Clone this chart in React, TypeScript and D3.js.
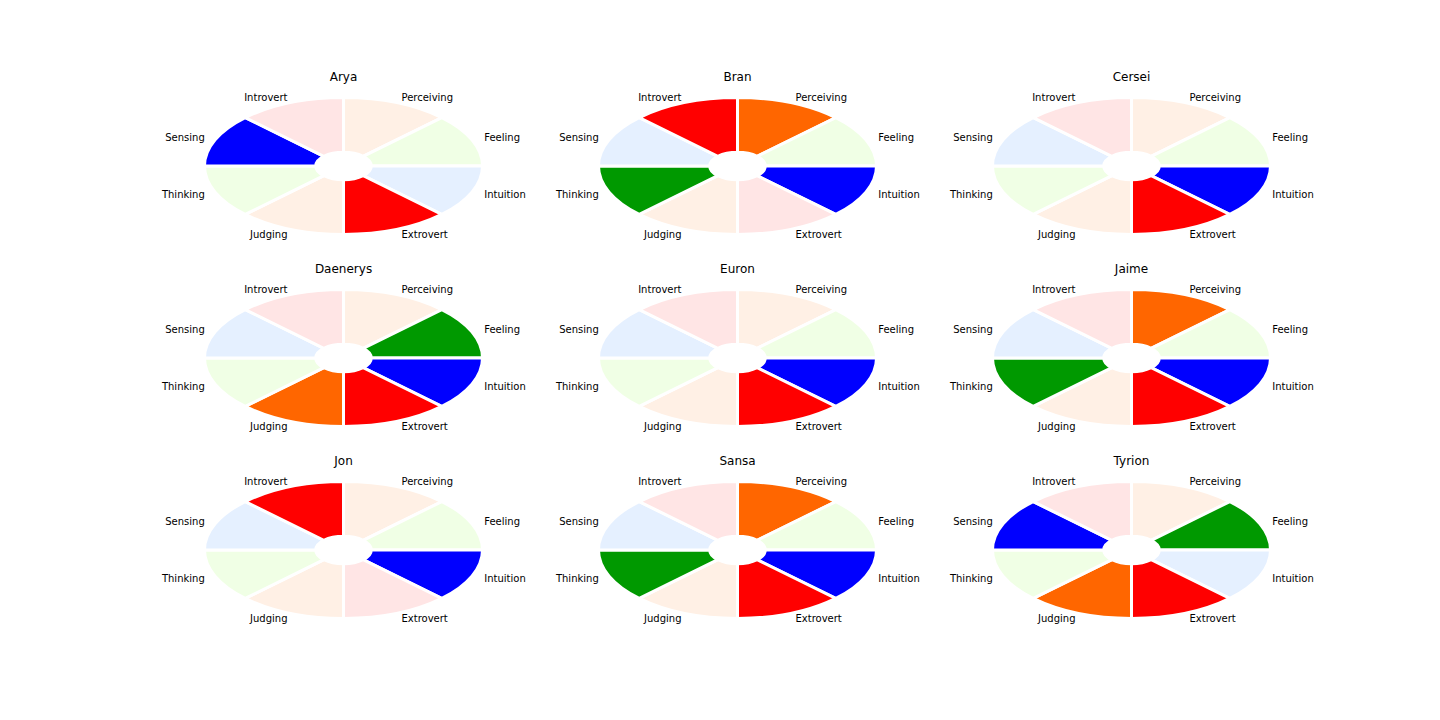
import React, { useEffect, useRef } from "react";
import * as d3 from "d3";

// slices clockwise from 12 o'clock
const traits = ["Perceiving", "Feeling", "Intuition", "Extrovert", "Judging", "Thinking", "Sensing", "Introvert"];
const traitGroup = ["JP", "TF", "SN", "IE", "JP", "TF", "SN", "IE"];

const characters = ["Arya", "Bran", "Cersei", "Daenerys", "Euron", "Jaime", "Jon", "Sansa", "Tyrion"];
const highlighted = [
    ["Sensing", "Extrovert"],
    ["Introvert", "Perceiving", "Intuition", "Thinking"],
    ["Intuition", "Extrovert"],
    ["Feeling", "Intuition", "Extrovert", "Judging"],
    ["Intuition", "Extrovert"],
    ["Perceiving", "Intuition", "Extrovert", "Thinking"],
    ["Introvert", "Intuition"],
    ["Perceiving", "Intuition", "Extrovert", "Thinking"],
    ["Sensing", "Feeling", "Extrovert", "Judging"],
];

const strongColor: Record<string, string> = { IE: "#ff0000", SN: "#0000ff", TF: "#009900", JP: "#ff6600" };
const lightColor: Record<string, string> = { IE: "#ffe5e5", SN: "#e5f0ff", TF: "#f0ffe5", JP: "#fff0e5" };

const colCenters = [343.5, 737.5, 1131.5];
const rowCenters = [166, 358, 550];

export default function App() {
    const ref = useRef<SVGSVGElement>(null);

    useEffect(() => {
        const svg = d3.select(ref.current);
        svg.selectAll("*").remove();

        const rx = 139;
        const ry = 68.5;

        const pie = d3.pie<string>().value(() => 1).sort(null);
        const arc = d3.arc<d3.PieArcDatum<string>>().innerRadius(rx * 0.2).outerRadius(rx);
        const arcs = pie(traits);
        const mid = (d: d3.PieArcDatum<string>) => (d.startAngle + d.endAngle) / 2;

        characters.forEach((name, i) => {
            const cx = colCenters[i % 3];
            const cy = rowCenters[Math.floor(i / 3)];
            const on = new Set(highlighted[i]);

            const g = svg.append("g").attr("transform", `translate(${cx}, ${cy})`);

            g.append("g")
                .attr("transform", `scale(1, ${ry / rx})`)
                .selectAll("path")
                .data(arcs)
                .join("path")
                .attr("d", arc)
                .attr("fill", (d, k) => on.has(d.data) ? strongColor[traitGroup[k]] : lightColor[traitGroup[k]])
                .attr("stroke", "#fff")
                .attr("stroke-width", 3)
                .attr("vector-effect", "non-scaling-stroke");

            g.selectAll("text.label")
                .data(arcs)
                .join("text")
                .attr("class", "label")
                .attr("x", d => {
                    const s = Math.sin(mid(d));
                    return 1.1 * rx * s + (s > 0 ? -0.5 : 2.5);
                })
                .attr("y", d => -1.08 * ry * Math.cos(mid(d)) - 0.3)
                .attr("text-anchor", d => Math.sin(mid(d)) > 0 ? "start" : "end")
                .attr("dominant-baseline", "central")
                .attr("font-size", "10px")
                .attr("fill", "#000")
                .text(d => d.data);

            g.append("text")
                .attr("x", 0)
                .attr("y", -89.5)
                .attr("text-anchor", "middle")
                .attr("dominant-baseline", "central")
                .attr("font-size", "12px")
                .attr("fill", "#000")
                .text(name);
        });
    }, []);

    return (
        <svg
            ref={ref}
            width={1440}
            height={720}
            style={{ position: "absolute", left: 0, top: 0, background: "#fff", fontFamily: "'DejaVu Sans', sans-serif" }}
        />
    );
}
